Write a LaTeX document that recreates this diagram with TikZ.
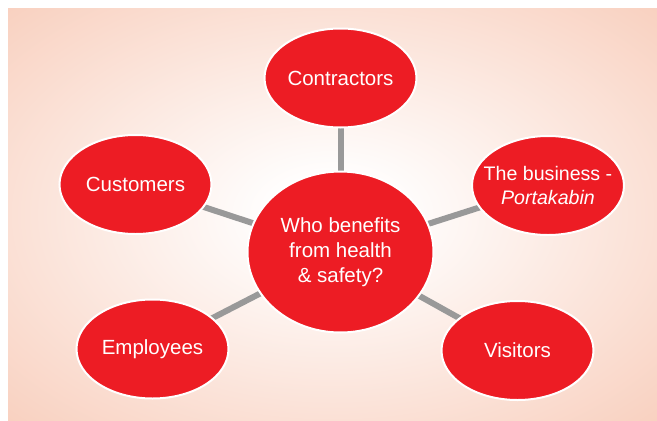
\documentclass[tikz,border=0pt]{standalone}
\usepackage{fontspec}
\setmainfont{Liberation Sans}
\usetikzlibrary{shapes.geometric,backgrounds}
\definecolor{bubblered}{RGB}{237,28,36}
\definecolor{linkgray}{RGB}{153,153,153}
\definecolor{peach}{RGB}{248,205,187}
\pgfdeclareradialshading{bgshade}{\pgfpoint{0bp}{0bp}}{%
  color(0bp)=(white); color(4bp)=(white); color(38bp)=(peach); color(80bp)=(peach)}
\begin{document}
\begin{tikzpicture}[x=1pt,y=-1pt,
  bubble/.style={ellipse, fill=bubblered, draw=white, line width=2pt,
    text=white, align=center, inner sep=0pt,
    font=\fontsize{20.5}{25}\selectfont,
    minimum width=152pt, minimum height=99pt},
  hub/.style={bubble, minimum width=186pt, minimum height=161pt},
  link/.style={draw=linkgray, line width=6pt}]
\useasboundingbox (0,0) rectangle (657,421);
\node[hub] (c) at (340.5,252) {Who benefits\\from health\\\& safety?};
\node[bubble] (con) at (340.5,78) {Contractors};
\node[bubble, inner xsep=-16pt, inner ysep=-8pt, font=\fontsize{19.6}{24}\selectfont] (bus) at (548,185.5) {The business -\\\textit{Portakabin}};
\node[bubble] (cus) at (135.5,184.5) {Customers};
\node[bubble] (emp) at (152.5,349) {Employees};
\node[bubble] (vis) at (517.5,350.5) {Visitors};
\begin{pgfonlayer}{background}
  \path[shading=bgshade] (8,8) rectangle (657,421);
  \draw[link] (c.center) -- (con.center);
  \draw[link] (c.center) -- (bus.center);
  \draw[link] (c.center) -- (cus.center);
  \draw[link] (c.center) -- (emp.center);
  \draw[link] (c.center) -- (vis.center);
\end{pgfonlayer}
\end{tikzpicture}
\end{document}
